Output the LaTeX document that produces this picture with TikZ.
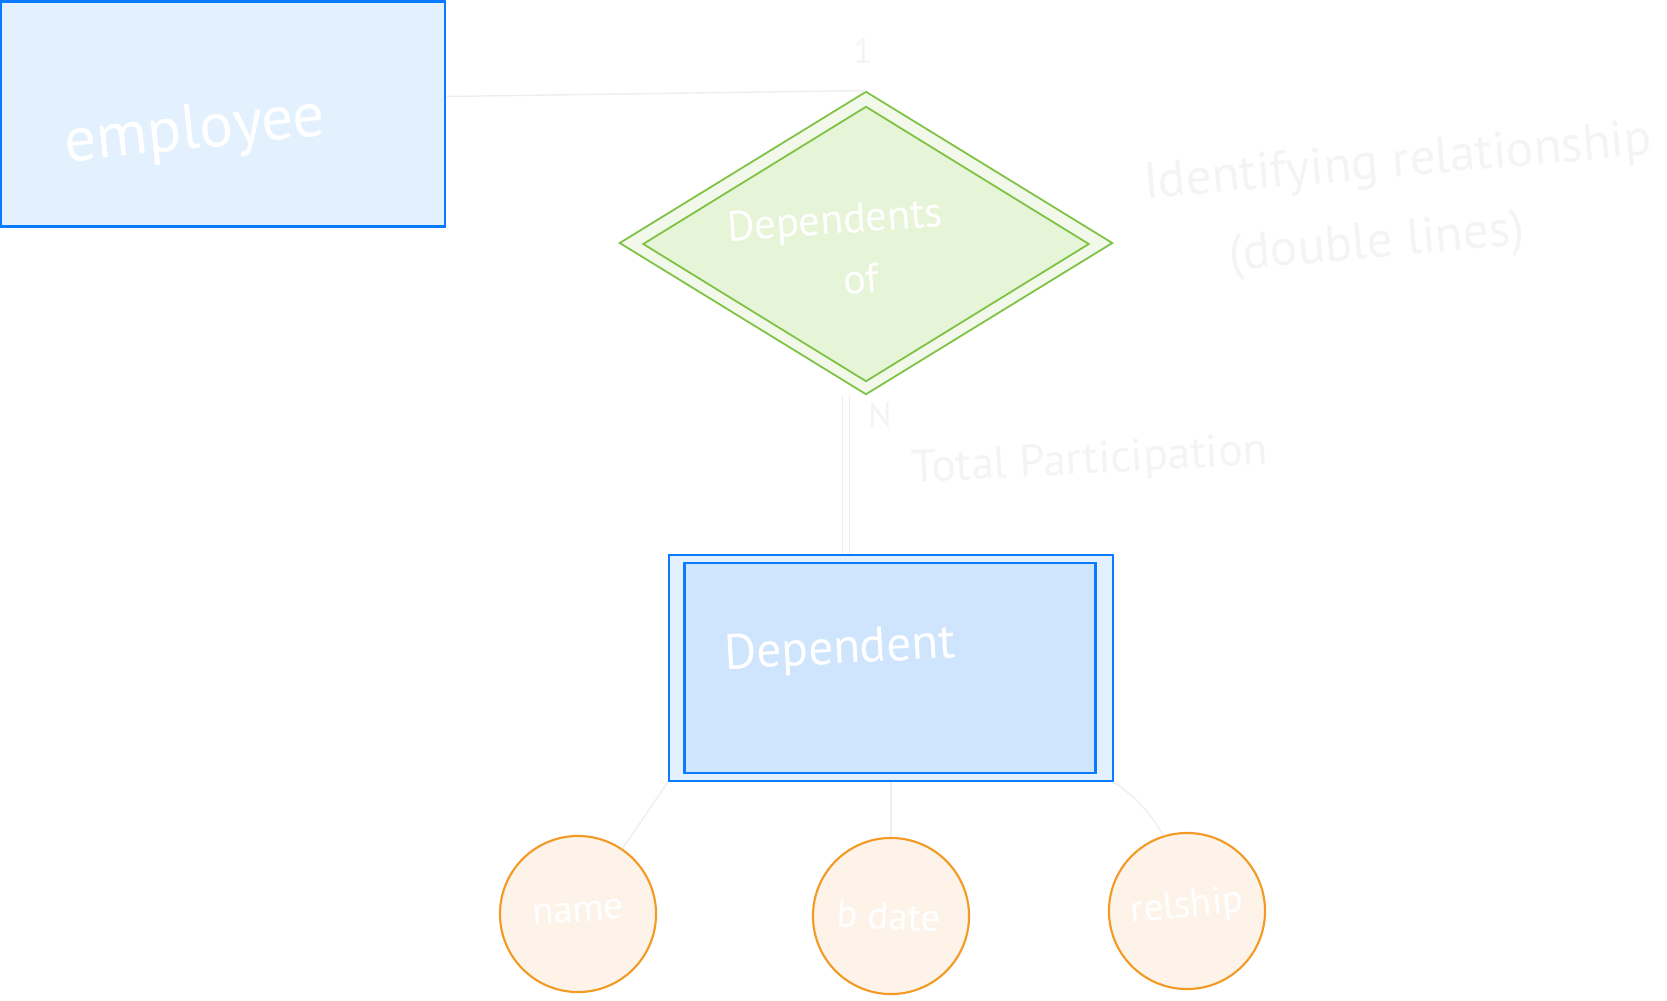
\documentclass[tikz,border=0pt]{standalone}
\usepackage{fontspec}
\setmainfont{PT Sans}
\usetikzlibrary{shapes.geometric}
% colours
\definecolor{entline}{HTML}{0A7AFF}
\definecolor{entfill}{HTML}{E3F0FE}
\definecolor{entinner}{HTML}{CFE4FD}
\definecolor{relline}{HTML}{7DC242}
\definecolor{relfill}{HTML}{E6F4D7}
\definecolor{relouter}{HTML}{F2F8EA}
\definecolor{attline}{HTML}{F39A24}
\definecolor{attfill}{HTML}{FDF3E8}
\definecolor{faint}{HTML}{F4F4F4}
\definecolor{faintline}{HTML}{EEEEEE}
\tikzset{
	entity/.style={draw=entline, fill=entfill, line width=0.75pt, rectangle, inner sep=0pt},
	relation/.style={draw=relline, line width=0.5pt, diamond, inner sep=0pt},
	attribute/.style={draw=attline, fill=attfill, line width=0.6pt, circle, inner sep=0pt, minimum size=1.56cm},
	ink/.style={text=white, inner sep=0pt},
	note/.style={text=faint, inner sep=0pt},
	link/.style={draw=faintline, line width=0.4pt},
}
\begin{document}
\begin{tikzpicture}[x=0.01cm, y=-0.01cm]
	\useasboundingbox (0,0) rectangle (1667,1000);
	% strong entity
	\node[entity, minimum width=4.44cm, minimum height=2.25cm] (employee) at (223,114) {};
	\node[ink, rotate=6, font=\fontsize{18}{20}\selectfont] (employeetxt) at (195,133) {employee};
	% identifying relationship (double diamond)
	\node[relation, fill=relouter, minimum width=4.93cm, minimum height=3.03cm] (rel) at (866,243) {};
	\node[relation, fill=relfill, minimum width=4.46cm, minimum height=2.75cm] (relin) at (866,244) {};
	\node[ink, rotate=4, font=\fontsize{12}{14}\selectfont] (reltxt) at (835,223) {Dependents};
	\node[ink, rotate=4, font=\fontsize{12}{14}\selectfont] (reltxtb) at (861,279) {of};
	% weak entity (double box)
	\node[entity, minimum width=4.44cm, minimum height=2.26cm] (dep) at (891,668) {};
	\node[entity, fill=entinner, minimum width=4.11cm, minimum height=2.10cm] (depin) at (890,668) {};
	\node[ink, rotate=3, font=\fontsize{14}{16}\selectfont] (deptxt) at (840,651) {Dependent};
	% attributes
	\node[attribute] (name) at (578,914) {};
	\node[ink, rotate=4, font=\fontsize{11}{13}\selectfont] (nametxt) at (578,912) {name};
	\node[attribute] (bdate) at (891,916) {};
	\node[ink, rotate=-3, font=\fontsize{11}{13}\selectfont] (bdatetxt) at (889,916) {b date};
	\node[attribute] (relship) at (1187,911) {};
	\node[ink, rotate=6, font=\fontsize{11}{13}\selectfont] (relshiptxt) at (1187,907) {relship};
	% connectors
	\draw[link] ([yshift=0.175cm]employee.east) -- (rel.north);
	\draw[link, double=white, double distance=0.06cm] ([xshift=-0.2cm]rel.south) -- ([xshift=-0.2cm]rel.south |- dep.north);
	\draw[link] (dep.south west) -- (name);
	\draw[link] (dep.south) -- (bdate);
	\draw[link] (dep.south east) to[bend left=12] (relship);
	% cardinalities and notes
	\node[note, font=\fontsize{10}{12}\selectfont] (one) at (863,51) {1};
	\node[note, font=\fontsize{10}{12}\selectfont] (many) at (880,415) {N};
	\node[note, rotate=5, font=\fontsize{14.5}{17}\selectfont] (idnote) at (1398,164) {Identifying relationship};
	\node[note, rotate=5, font=\fontsize{14.5}{17}\selectfont] (idnoteb) at (1377,245) {(double lines)};
	\node[note, rotate=3, font=\fontsize{13}{15}\selectfont] (totnote) at (1090,462) {Total Participation};
\end{tikzpicture}
\end{document}
